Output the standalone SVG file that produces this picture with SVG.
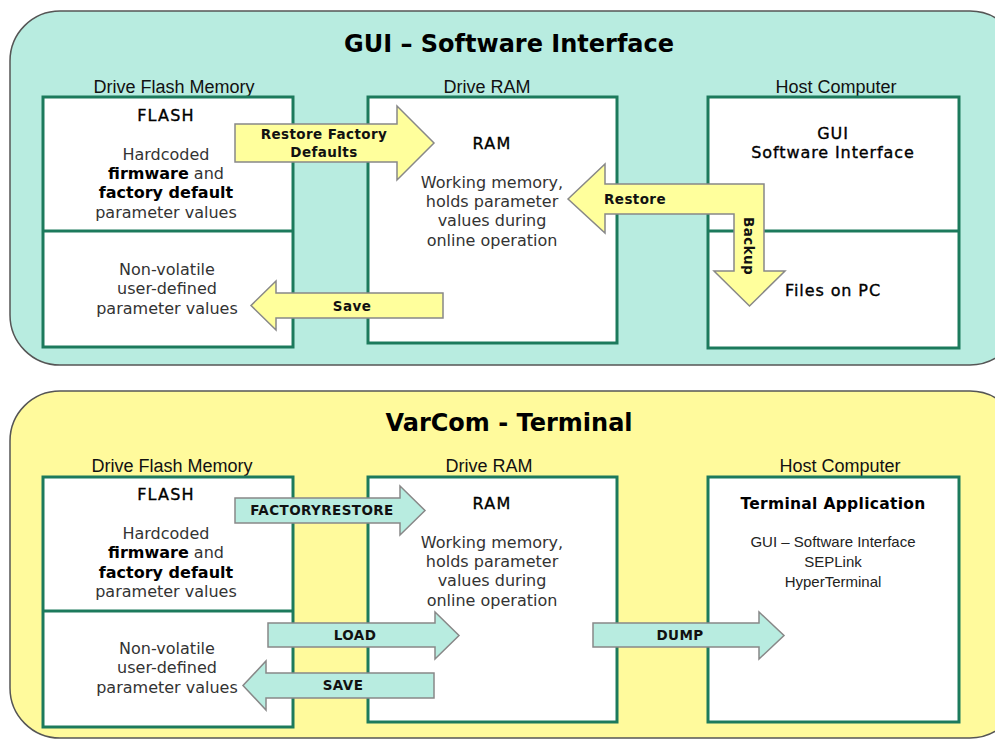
<svg xmlns="http://www.w3.org/2000/svg" width="995" height="740" viewBox="0 0 995 740">
<defs>
<style>
.panelA{fill:#b8ece0;stroke:#555;stroke-width:1.5}
.panelB{fill:#fffa9c;stroke:#555;stroke-width:1.5}
.box{fill:#fff;stroke:#1c7a5c;stroke-width:3}
.div{stroke:#1c7a5c;stroke-width:3}
.title{font-family:"DejaVu Sans",Verdana,sans-serif;font-weight:bold;font-size:24px;fill:#000;text-anchor:middle}
.col{font-family:"Liberation Sans",Arial,sans-serif;font-size:18px;fill:#111;text-anchor:middle}
.t{font-family:"DejaVu Sans",Verdana,sans-serif;font-size:16px;fill:#333;text-anchor:middle}
.b{font-weight:bold;fill:#000}
.m{fill:#000;stroke:#000;stroke-width:0.35px;letter-spacing:1.2px}
.h{font-family:"DejaVu Sans",Verdana,sans-serif;font-size:16px;fill:#000;stroke:#000;stroke-width:0.35px;text-anchor:middle;letter-spacing:0.9px}
.ha{font-family:"Liberation Sans",Arial,sans-serif;font-size:15px;fill:#222;text-anchor:middle}
.arrY{fill:#ffff9c;stroke:#888;stroke-width:1.5}
.arrA{fill:#b8ece0;stroke:#888;stroke-width:1.5}
.al{font-family:"DejaVu Sans",Verdana,sans-serif;font-weight:bold;font-size:13.5px;fill:#111;text-anchor:middle;letter-spacing:0.4px}
</style>
</defs>

<g id="panel-gui">
<rect class="panelA" x="10" y="11" width="1010" height="354" rx="50" ry="50"/>
<text class="title" x="509" y="52">GUI – Software Interface</text>
<text class="col" x="174" y="93">Drive Flash Memory</text>
<text class="col" x="487" y="93">Drive RAM</text>
<text class="col" x="836" y="93">Host Computer</text>
</g>

<g id="gui-flash">
<rect class="box" x="43" y="97" width="250" height="250"/>
<line class="div" x1="43" y1="231" x2="293" y2="231"/>
<text class="t m" x="166" y="121">FLASH</text>
<text class="t" x="166" y="160">Hardcoded</text>
<text class="t" x="166" y="179"><tspan class="b">firmware</tspan> and</text>
<text class="t" x="166" y="198"><tspan class="b">factory default</tspan></text>
<text class="t" x="166" y="218">parameter values</text>
<text class="t" x="167" y="275">Non-volatile</text>
<text class="t" x="167" y="294">user-defined</text>
<text class="t" x="167" y="314">parameter values</text>
</g>

<g id="gui-ram">
<rect class="box" x="368" y="97" width="249" height="246"/>
<text class="t m" x="492" y="149">RAM</text>
<text class="t" x="492" y="188">Working memory,</text>
<text class="t" x="492" y="207">holds parameter</text>
<text class="t" x="492" y="226">values during</text>
<text class="t" x="492" y="246">online operation</text>
</g>

<g id="gui-host">
<rect class="box" x="708" y="97" width="251" height="251"/>
<line class="div" x1="708" y1="231" x2="959" y2="231"/>
<text class="h" x="833" y="139">GUI</text>
<text class="h" x="833" y="158">Software Interface</text>
<text class="h" x="833" y="296">Files on PC</text>
</g>

<g id="panel-varcom">
<rect class="panelB" x="10" y="391" width="1010" height="347" rx="50" ry="50"/>
<text class="title" x="509" y="431">VarCom - Terminal</text>
<text class="col" x="172" y="472">Drive Flash Memory</text>
<text class="col" x="489" y="472">Drive RAM</text>
<text class="col" x="840" y="472">Host Computer</text>
</g>

<g id="vc-flash">
<rect class="box" x="43" y="477" width="250" height="250"/>
<line class="div" x1="43" y1="611" x2="293" y2="611"/>
<text class="t m" x="166" y="500">FLASH</text>
<text class="t" x="166" y="539">Hardcoded</text>
<text class="t" x="166" y="558"><tspan class="b">firmware</tspan> and</text>
<text class="t" x="166" y="578"><tspan class="b">factory default</tspan></text>
<text class="t" x="166" y="597">parameter values</text>
<text class="t" x="167" y="654">Non-volatile</text>
<text class="t" x="167" y="673">user-defined</text>
<text class="t" x="167" y="693">parameter values</text>
</g>

<g id="vc-ram">
<rect class="box" x="368" y="477" width="249" height="245"/>
<text class="t m" x="492" y="509">RAM</text>
<text class="t" x="492" y="548">Working memory,</text>
<text class="t" x="492" y="567">holds parameter</text>
<text class="t" x="492" y="586">values during</text>
<text class="t" x="492" y="606">online operation</text>
</g>

<g id="vc-host">
<rect class="box" x="708" y="477" width="251" height="245"/>
<text class="t b" x="833" y="509" style="font-size:15.5px;letter-spacing:0.3px">Terminal Application</text>
<text class="ha" x="833" y="547">GUI – Software Interface</text>
<text class="ha" x="833" y="567">SEPLink</text>
<text class="ha" x="833" y="587">HyperTerminal</text>
</g>

<g id="connectors">
<g id="arrow-restore-factory">
<path class="arrY" d="M235,124 H397 V106 L434,143 L397,180 V162 H235 Z"/>
<text class="al" x="324" y="139">Restore Factory</text>
<text class="al" x="324" y="157">Defaults</text>
</g>
<g id="arrow-save">
<path class="arrY" d="M443,293 H276 V281 L251,305.5 L276,330 V318 H443 Z"/>
<text class="al" x="352" y="311">Save</text>
</g>
<g id="arrow-restore-backup">
<path class="arrY" d="M568,199 L605,164 V184 H764 V271 H785 L749.5,306 L714,271 H734 V214 H605 V233 Z"/>
<text class="al" x="635" y="204">Restore</text>
<text class="al" transform="translate(744,246) rotate(90)" x="0" y="0">Backup</text>
</g>
<g id="arrow-factoryrestore">
<path class="arrA" d="M235,498 H400 V486 L425,510.5 L400,535 V523 H235 Z"/>
<text class="al" x="322" y="515">FACTORYRESTORE</text>
</g>
<g id="arrow-load">
<path class="arrA" d="M268,623 H435 V612 L459,635.5 L435,659 V647 H268 Z"/>
<text class="al" x="355" y="640">LOAD</text>
</g>
<g id="arrow-save2">
<path class="arrA" d="M434,673 H266 V661 L243,685.5 L266,710 V698 H434 Z"/>
<text class="al" x="343" y="690">SAVE</text>
</g>
<g id="arrow-dump">
<path class="arrA" d="M593,623 H759 V612 L784,635.5 L759,659 V647 H593 Z"/>
<text class="al" x="680" y="640">DUMP</text>
</g>
</g>
</svg>
